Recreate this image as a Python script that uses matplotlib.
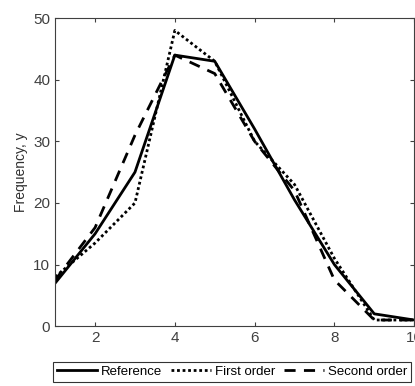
import matplotlib
matplotlib.use("Agg")
import matplotlib.pyplot as plt

plt.rcParams['font.family'] = ['Liberation Sans', 'DejaVu Sans']

x = [1, 2, 3, 4, 5, 6, 7, 8, 9, 10]
reference = [7, 15, 25, 44, 43, 32, 20.5, 10, 2, 1]
first_order = [8, 13.5, 20, 48, 43, 30, 23, 11, 1, 1]
second_order = [7.5, 16, 31, 44, 41, 30, 22, 7.5, 1, 1]

fig = plt.figure(figsize=(4.15, 3.86), dpi=100)
ax = fig.add_axes([0.133, 0.155, 0.865, 0.798])

ax.plot(x, reference, color='black', linewidth=2, linestyle='-', label='Reference')
ax.plot(x, first_order, color='black', linewidth=2, linestyle=(0, (1, 1)), label='First order')
ax.plot(x, second_order, color='black', linewidth=2, linestyle=(0, (4, 3)), label='Second order')

ax.set_xlim(1, 10)
ax.set_ylim(0, 50)
ax.set_xticks([2, 4, 6, 8, 10])
ax.set_yticks([0, 10, 20, 30, 40, 50])
ax.tick_params(direction='in', top=True, right=True, labelsize=11, colors='#404040', length=3)
for sp in ax.spines.values():
    sp.set_color('#404040')
    sp.set_linewidth(0.8)
ax.set_ylabel('Frequency, y', fontsize=10, color='#303030')

leg = ax.legend(loc='upper center', bbox_to_anchor=(0.493, -0.115), ncol=3,
                frameon=True, fancybox=False, edgecolor='black', fontsize=9.5,
                handlelength=3.0, handletextpad=0.3, columnspacing=0.7,
                borderpad=0.3, borderaxespad=0)
leg.get_frame().set_linewidth(0.8)

fig.savefig('out.png', dpi=100)
